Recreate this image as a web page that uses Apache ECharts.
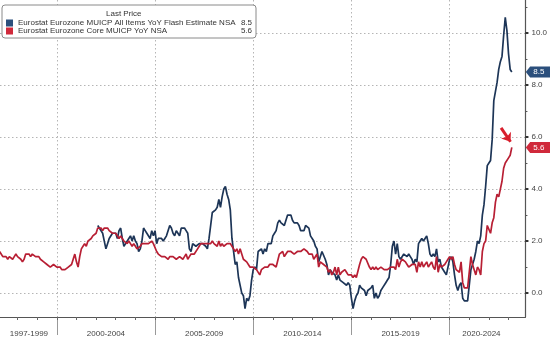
<!DOCTYPE html>
<html>
<head>
<meta charset="utf-8">
<script src="https://cdn.jsdelivr.net/npm/echarts@6/dist/echarts.min.js"></script>
<style>
html,body{margin:0;padding:0;background:#fff;}
#chart{width:550px;height:351px;}
</style>
</head>
<body>
<div id="chart"></div>
<script>
// ---- Data (monthly YoY %, plotted at month-end, x in fractional years) ----
const headlineName = 'Eurostat Eurozone MUICP All Items YoY Flash Estimate NSA';
const coreName = 'Eurostat Eurozone Core MUICP YoY NSA';
const headlineStart = [2002, 1];
const coreStart = [1997, 1];
const headlineValues = [
  2.6,2.5,2.5,2.3,2.0,1.7,1.9,2.1,2.1,2.3,2.3,2.3,
  2.1,2.4,2.5,2.1,1.8,1.9,1.9,2.1,2.2,2.0,2.2,2.0,
  1.9,1.6,1.7,2.0,2.5,2.4,2.3,2.3,2.1,2.4,2.2,2.4,
  1.9,2.1,2.1,2.1,2.0,2.1,2.2,2.2,2.6,2.5,2.3,2.2,
  2.4,2.3,2.2,2.5,2.5,2.5,2.4,2.3,1.7,1.6,1.9,1.9,
  1.8,1.8,1.9,1.9,1.9,1.9,1.8,1.7,2.1,2.6,3.1,3.1,
  3.2,3.3,3.6,3.3,3.7,4.0,4.1,3.8,3.6,3.2,2.1,1.6,
  1.1,1.2,0.6,0.6,0.0,-0.1,-0.6,-0.2,-0.3,-0.1,0.5,0.9,
  1.0,0.9,1.6,1.6,1.7,1.5,1.7,1.6,1.9,1.9,1.9,2.2,
  2.3,2.4,2.7,2.8,2.7,2.7,2.6,2.6,3.0,3.0,3.0,2.8,
  2.7,2.7,2.7,2.6,2.4,2.4,2.4,2.6,2.6,2.5,2.2,2.2,
  2.0,1.8,1.7,1.2,1.4,1.6,1.6,1.3,1.1,0.7,0.9,0.8,
  0.8,0.7,0.5,0.7,0.5,0.5,0.4,0.4,0.3,0.4,0.3,-0.2,
  -0.6,-0.3,-0.1,0.0,0.3,0.2,0.2,0.1,-0.1,0.1,0.1,0.2,
  0.3,-0.2,0.0,-0.2,-0.1,0.1,0.2,0.2,0.4,0.5,0.6,1.1,
  1.8,2.0,1.5,1.9,1.4,1.3,1.3,1.5,1.5,1.4,1.5,1.4,
  1.3,1.1,1.3,1.2,1.9,2.0,2.1,2.0,2.1,2.2,1.9,1.5,
  1.4,1.5,1.4,1.7,1.2,1.3,1.0,1.0,0.8,0.7,1.0,1.3,
  1.4,1.2,0.7,0.3,0.1,0.3,0.4,-0.2,-0.3,-0.3,-0.3,-0.3,
  0.9,0.9,1.3,1.6,2.0,1.9,2.2,3.0,3.4,4.1,4.9,5.0,
  5.1,5.9,7.4,7.4,8.1,8.6,8.9,9.1,9.9,10.6,10.1,9.2,
  8.6,8.5
];
const coreValues = [
  1.6,1.5,1.4,1.4,1.4,1.3,1.4,1.4,1.3,1.4,1.5,1.4,
  1.4,1.3,1.2,1.3,1.5,1.5,1.5,1.4,1.5,1.5,1.4,1.4,
  1.4,1.3,1.3,1.2,1.2,1.1,1.1,1.0,1.0,1.1,1.1,1.0,
  1.0,1.0,0.9,0.9,0.9,0.9,1.0,1.0,1.1,1.3,1.5,1.2,
  1.0,1.4,1.7,1.8,1.9,1.8,2.0,2.0,2.1,2.2,2.2,2.3,
  2.5,2.5,2.5,2.4,2.5,2.5,2.5,2.4,2.4,2.3,2.3,2.3,
  2.2,2.1,2.2,2.1,2.0,2.0,1.9,2.0,1.9,1.8,1.9,1.8,
  1.7,1.7,1.8,1.9,1.9,1.9,1.9,1.9,1.9,2.0,1.9,1.9,
  1.6,1.5,1.5,1.4,1.4,1.4,1.4,1.3,1.4,1.4,1.4,1.4,
  1.3,1.3,1.4,1.4,1.3,1.4,1.5,1.3,1.4,1.5,1.5,1.5,
  1.5,1.7,1.8,1.9,1.9,1.9,1.9,1.9,1.9,1.9,2.0,1.9,
  1.9,1.8,2.0,1.8,1.9,1.8,1.8,1.9,1.9,1.9,1.8,1.7,
  1.6,1.7,1.5,1.7,1.5,1.3,1.3,1.2,1.2,1.0,1.0,1.0,
  1.0,0.9,0.9,0.7,0.9,0.9,1.0,1.0,1.0,1.1,1.1,1.1,
  1.1,1.0,1.0,1.5,1.5,1.6,1.4,1.5,1.6,1.6,1.6,1.6,
  1.5,1.5,1.6,1.6,1.6,1.6,1.7,1.7,1.6,1.5,1.5,1.5,
  1.3,1.3,1.5,1.0,1.2,1.2,1.1,1.1,1.0,0.8,0.9,0.7,
  0.8,1.0,0.7,1.0,0.7,0.8,0.8,0.9,0.8,0.7,0.7,0.7,
  0.6,0.7,0.6,0.6,1.1,1.3,1.4,1.4,1.3,1.3,1.0,0.9,
  1.0,0.9,1.0,0.9,0.9,1.0,1.0,0.9,0.9,0.9,0.9,1.0,
  1.0,1.0,0.9,1.3,1.0,1.2,1.3,1.3,1.2,1.1,1.0,1.0,
  1.1,1.1,1.1,0.8,1.2,1.0,1.2,1.0,1.0,1.2,1.0,1.0,
  1.2,1.0,0.9,1.4,0.8,1.1,1.0,1.0,1.1,1.2,1.3,1.4,
  1.3,1.4,1.1,0.9,0.9,0.8,1.2,0.4,0.2,0.2,0.2,0.2,
  1.4,1.1,0.9,0.7,1.0,0.9,0.7,1.6,1.9,2.0,2.6,2.6,
  2.3,2.7,2.9,3.5,3.8,3.7,4.0,4.3,4.8,5.0,5.0,5.2,
  5.3,5.6
];
// x-axis period labels (fractional-year label centres) and separators
const periodLabels = ['1997-1999','2000-2004','2005-2009','2010-2014','2015-2019','2020-2024'];
const periodLabelAt = [1998.58, 2002.5, 2007.5, 2012.5, 2017.5, 2021.62];
const periodBreaks = [2000, 2005, 2010, 2015, 2020];
const yearTicks = [];
for (let y = 1998; y <= 2023; y++) yearTicks.push(y);
const yMajor = [0, 2, 4, 6, 8, 10];
const yMinor = [1, 3, 5, 7, 9, 11];
const arrowFrom = [2022.62, 6.35];
const arrowTo = [2023.1, 5.82];

function toSeries(start, values) {
  return values.map((v, i) => {
    const m = start[1] - 1 + i;           // months since Jan of start year
    return [start[0] + (m + 1) / 12, v];  // month-end
  });
}

const headData = toSeries(headlineStart, headlineValues);
const coreData = toSeries(coreStart, coreValues);
const headLast = headData[headData.length - 1];
const coreLast = coreData[coreData.length - 1];

const BLUE = '#1d3557';
const BLUE_TAG = '#2b4f7c';
const RED = '#b81f34';
const RED_TAG = '#d0293b';
const GRID = '#b5b5b5';
const FONT = 'Liberation Sans, Arial, sans-serif';

const xMin = 1997.107, xMax = 2023.86;
const yMin = -0.92, yMax = 11.27;

const tagPath = 'path://M0,5 L5,0 L30,0 L30,10 L5,10 Z';

const chart = echarts.init(document.getElementById('chart'), null, {renderer: 'canvas'});
chart.setOption({
  animation: false,
  backgroundColor: '#ffffff',
  textStyle: {fontFamily: FONT},
  title: {
    text: 'Last Price', left: 106, top: 10, padding: 0, z: 20,
    textStyle: {fontSize: 8, fontWeight: 'normal', color: '#333', fontFamily: FONT}
  },
  legend: {
    orient: 'vertical', left: 2, top: 5,
    padding: [14, 4, 3, 4], itemGap: 0,
    itemWidth: 7, itemHeight: 7, icon: 'rect',
    backgroundColor: '#ffffff', borderColor: '#8a8a8a', borderWidth: 1, borderRadius: 3,
    data: [headlineName, coreName],
    formatter: function (name) {
      const v = name === headlineName ? headLast[1] : coreLast[1];
      return '{n|' + name + '}{v|' + v.toFixed(1) + '}';
    },
    textStyle: {
      fontFamily: FONT, fontSize: 8, color: '#333',
      rich: {
        n: {fontSize: 8, width: 222, lineHeight: 10, color: '#333', fontFamily: FONT},
        v: {fontSize: 8, width: 12, align: 'right', lineHeight: 10, color: '#333', fontFamily: FONT}
      }
    }
  },
  grid: {left: 0, right: 23, top: 0, bottom: 34, containLabel: false},
  xAxis: [{
    type: 'value', min: xMin, max: xMax, position: 'bottom',
    axisLine: {show: true, onZero: false, lineStyle: {color: '#555', width: 1.2}},
    axisTick: {show: true, customValues: periodBreaks, length: 18, lineStyle: {color: '#999', width: 1}},
    axisLabel: {
      show: true, customValues: periodLabelAt, margin: 13,
      fontSize: 8, color: '#444', fontFamily: FONT,
      formatter: function (val) {
        let best = 0, bd = Infinity;
        periodLabelAt.forEach((s, i) => { const d = Math.abs(s - val); if (d < bd) { bd = d; best = i; } });
        return periodLabels[best];
      }
    },
    splitLine: {show: true, lineStyle: {color: GRID, type: [1.5, 2.5], width: 1}}
  }, {
    type: 'value', min: xMin, max: xMax, position: 'bottom',
    axisLine: {show: false, onZero: false},
    axisTick: {show: true, customValues: yearTicks, length: 3, lineStyle: {color: '#666', width: 1}},
    axisLabel: {show: false},
    splitLine: {show: false}
  }],
  yAxis: [{
    type: 'value', position: 'right', min: yMin, max: yMax,
    axisLine: {show: true, onZero: false, lineStyle: {color: '#555', width: 1.2}},
    axisTick: {show: true, customValues: yMajor, length: 3, lineStyle: {color: '#333', width: 2}},
    axisLabel: {
      show: true, customValues: yMajor, margin: 6, fontSize: 8, color: '#444', fontFamily: FONT,
      formatter: v => Number(v).toFixed(1)
    },
    splitLine: {show: true, lineStyle: {color: GRID, type: [1.5, 2.5], width: 1}}
  }, {
    type: 'value', position: 'right', min: yMin, max: yMax,
    axisLine: {show: false, onZero: false},
    axisTick: {show: true, customValues: yMinor, length: 2, lineStyle: {color: '#555', width: 1}},
    axisLabel: {show: false},
    splitLine: {show: false}
  }],
  series: [{
    name: headlineName, type: 'line', xAxisIndex: 0, yAxisIndex: 0,
    data: headData, showSymbol: false, symbol: 'none',
    lineStyle: {color: BLUE, width: 1.7}, itemStyle: {color: BLUE_TAG},
    z: 3,
    markPoint: {
      symbol: tagPath, symbolSize: [26, 11], symbolKeepAspect: false, symbolOffset: [27, 0],
      itemStyle: {color: BLUE_TAG},
      label: {show: true, color: '#fff', fontSize: 8, fontFamily: FONT, formatter: p => Number(p.value).toFixed(1)},
      data: [{coord: headLast, value: headLast[1]}]
    }
  }, {
    name: coreName, type: 'line', xAxisIndex: 0, yAxisIndex: 0,
    data: coreData, showSymbol: false, symbol: 'none',
    lineStyle: {color: RED, width: 1.7}, itemStyle: {color: RED_TAG},
    z: 4,
    markPoint: {
      symbol: tagPath, symbolSize: [26, 11], symbolKeepAspect: false, symbolOffset: [27, 0],
      itemStyle: {color: RED_TAG},
      label: {show: true, color: '#fff', fontSize: 8, fontFamily: FONT, formatter: p => Number(p.value).toFixed(1)},
      data: [{coord: coreLast, value: coreLast[1]}]
    },
    markLine: {
      silent: true, symbol: ['none', 'arrow'], symbolSize: [9, 8],
      lineStyle: {color: '#d81e2c', width: 3, type: 'solid'},
      label: {show: false},
      data: [[{coord: arrowFrom}, {coord: arrowTo}]]
    }
  }]
});
</script>
</body>
</html>
